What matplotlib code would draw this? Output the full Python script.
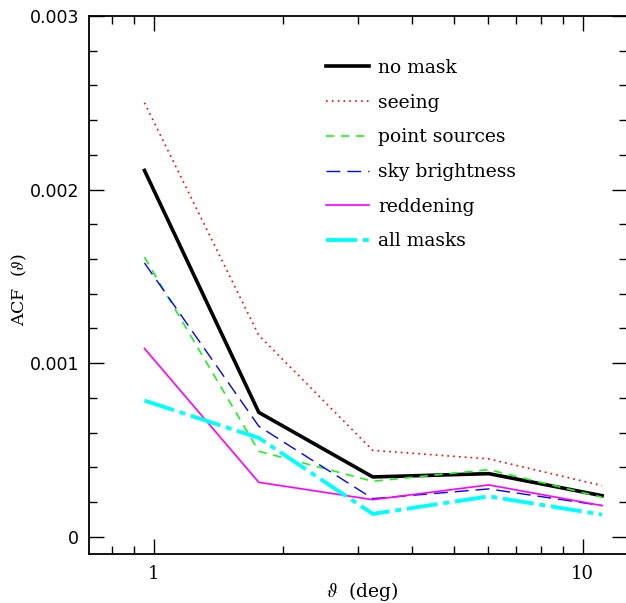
import matplotlib
matplotlib.use("Agg")
import matplotlib.pyplot as plt
from matplotlib.ticker import LogLocator, NullFormatter, MultipleLocator, FixedFormatter, FixedLocator

plt.rcParams["mathtext.fontset"] = "stix"

# ---------- Data ----------
theta = [0.951, 1.757, 3.24, 6.04, 11.1]

no_mask = [0.00211, 0.000716, 0.000344, 0.000363, 0.000236]
seeing = [0.00250, 0.00116, 0.000497, 0.000448, 0.000294]
point_sources = [0.00161, 0.000492, 0.000319, 0.000386, 0.000227]
sky_brightness = [0.001577, 0.000636, 0.000219, 0.000275, 0.000179]
reddening = [0.001084, 0.000313, 0.000213, 0.000298, 0.000179]
all_masks = [0.000784, 0.000569, 0.000131, 0.000232, 0.000127]

labels = ["no mask", "seeing", "point sources", "sky brightness", "reddening", "all masks"]

# ---------- Plot ----------
W, H = 626, 603
fig = plt.figure(figsize=(W / 100, H / 100), dpi=100)
ax = fig.add_axes([89 / W, 1 - 554 / H, (627 - 89) / W, (554 - 16) / H])

ax.plot(theta, no_mask, color="black", lw=2.6, label=labels[0])
ax.plot(theta, seeing, color="red", lw=1.2, ls=(0, (1, 2.5)), label=labels[1])
ax.plot(theta, point_sources, color="#22ee22", lw=1.2, ls=(0, (5, 4)), label=labels[2])
ax.plot(theta, sky_brightness, color="blue", lw=1.0, ls=(0, (10, 5)), label=labels[3])
ax.plot(theta, reddening, color="magenta", lw=1.2, label=labels[4])
ax.plot(theta, all_masks, color="cyan", lw=2.8, ls=(0, (8, 1.5, 1.5, 1.5)), label=labels[5])

ax.set_xscale("log")
ax.set_xlim(0.706, 12.69)
ax.set_ylim(-0.0001, 0.003)

ax.xaxis.set_major_locator(FixedLocator([1, 10]))
ax.xaxis.set_major_formatter(FixedFormatter(["1", "10"]))
ax.xaxis.set_minor_locator(LogLocator(base=10, subs=range(2, 10), numticks=20))
ax.xaxis.set_minor_formatter(NullFormatter())

ax.yaxis.set_minor_locator(MultipleLocator(0.0002))
ax.set_yticks([0, 0.001, 0.002, 0.003])
ax.set_yticklabels(["0", "0.001", "0.002", "0.003"], family="DejaVu Sans", fontsize=12.5)
for t in ax.get_xticklabels():
    t.set_family("DejaVu Serif")
    t.set_fontsize(13)

ax.tick_params(which="both", direction="in", top=True, right=True, width=1)
ax.tick_params(which="major", length=11)
ax.tick_params(which="minor", length=6)
ax.tick_params(axis="y", pad=7)
ax.tick_params(axis="x", pad=8)

for s in ax.spines.values():
    s.set_linewidth(1.3)

ax.set_xlabel(r"$\vartheta$  (deg)", family="DejaVu Serif", fontsize=13.5)
ax.set_ylabel(r"ACF  ($\vartheta$)", family="DejaVu Serif", fontsize=12.5)
ax.xaxis.set_label_coords((362 - 89) / 538, (554 - 580) / 538)
ax.yaxis.set_label_coords((29 - 89) / 538, (554 - 290) / 538)

leg = ax.legend(loc="upper left", bbox_to_anchor=((326 - 89) / (627 - 89), 1 - (59 - 16) / (554 - 16)),
                frameon=False, borderpad=0, borderaxespad=0,
                handlelength=2.3, handletextpad=0.48, labelspacing=0.89,
                prop={"family": "DejaVu Serif", "size": 13.5})

fig.savefig("out.png", dpi=100)
